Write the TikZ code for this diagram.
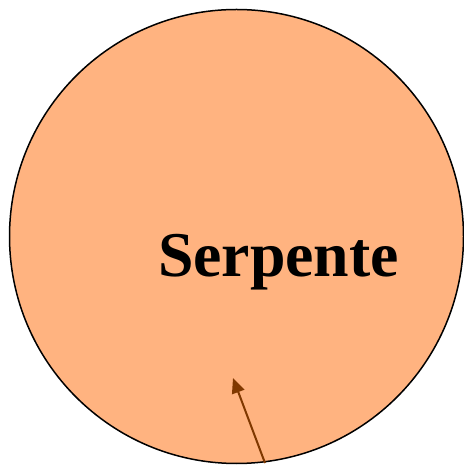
\documentclass[tikz,border=0pt]{standalone}
\usepackage{fontspec}
\setmainfont{Liberation Serif}
\usetikzlibrary{arrows.meta}
\definecolor{peach}{RGB}{255,179,128}
\definecolor{arrowbrown}{RGB}{128,56,0}
\begin{document}
\begin{tikzpicture}[x=1pt,y=1pt,
  blob/.style={circle,draw=black,line width=1.5pt,fill=peach,minimum size=454pt,inner sep=0pt},
  lbl/.style={font=\bfseries\fontsize{63.8}{70}\selectfont,anchor=base},
  pointer/.style={draw=arrowbrown,line width=2pt,-{Triangle[length=15pt,width=13pt]}}]
\useasboundingbox (0,0) rectangle (463,465);
\node[blob] (c) at (236.5,228.5) {};
\node[lbl] (t) at (278.5,188) {Serpente};
\coordinate (s) at (265,2);
\coordinate (e) at (233,87);
\draw[pointer] (s) -- (e);
\end{tikzpicture}
\end{document}
